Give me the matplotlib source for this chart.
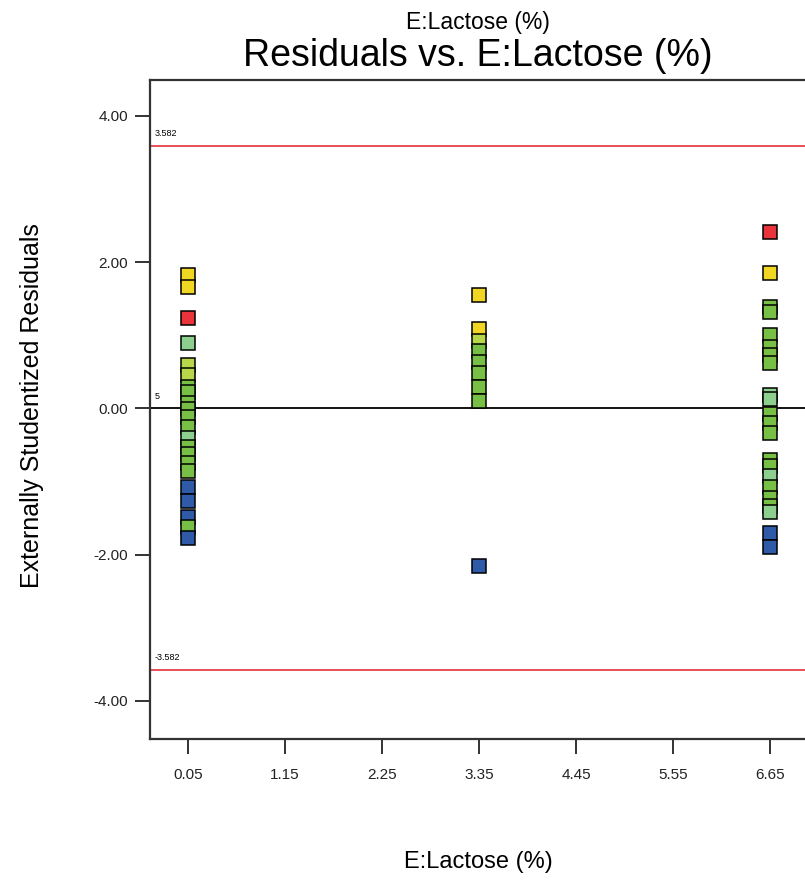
import numpy as np
import matplotlib.pyplot as plt

plt.rcParams["font.family"] = ["Liberation Sans", "DejaVu Sans"]

# Externally studentized residuals grouped by lactose level
lactose_levels = [0.05, 3.35, 6.65]

resid_low = [1.82, 1.66, 1.23, 0.90, 0.59, 0.45, 0.29, 0.22, 0.08, -0.01, -0.12,
             -0.26, -0.41, -0.53, -0.62, -0.74, -0.86, -1.08, -1.26, -1.49,
             -1.62, -1.77]
group_low = ["Y", "Y", "R", "L", "YG", "YG", "G", "G", "G", "G", "G",
             "G", "L", "G", "G", "G", "G", "B", "B", "B",
             "G", "B"]

resid_mid = [1.55, 1.08, 0.92, 0.78, 0.63, 0.48, 0.29, 0.10, -2.15]
group_mid = ["Y", "Y", "YG", "G", "G", "G", "G", "G", "B"]

resid_high = [2.41, 1.85, 1.38, 1.32, 1.00, 0.84, 0.73, 0.62, 0.18, 0.13,
              -0.07, -0.20, -0.34, -0.71, -0.79, -0.92, -1.08, -1.22, -1.33,
              -1.42, -1.71, -1.90]
group_high = ["R", "Y", "G", "G", "G", "G", "G", "G", "L", "L",
              "G", "G", "G", "G", "G", "L", "G", "G", "G",
              "L", "B", "B"]

limit = 3.582
x_ticks = [0.05, 1.15, 2.25, 3.35, 4.45, 5.55, 6.65]
y_ticks = [-4, -2, 0, 2, 4]

palette = {
    "R": "#e8343a",
    "Y": "#f2d624",
    "YG": "#b7d64a",
    "G": "#78bf45",
    "L": "#8ccf8e",
    "B": "#2f5aa8",
}

fig = plt.figure(figsize=(8.05, 8.8), dpi=100)
ax = fig.add_axes([150 / 805, (880 - 739) / 880, 655 / 805, (739 - 80) / 880])

ax.axhline(0, color="black", lw=1.3, zorder=1)
ax.axhline(limit, color="#e8414a", lw=1.3, zorder=1)
ax.axhline(-limit, color="#e8414a", lw=1.3, zorder=1)

for xv, ys, gs in zip(lactose_levels,
                      [resid_low, resid_mid, resid_high],
                      [group_low, group_mid, group_high]):
    for yv, g in zip(ys, gs):
        ax.plot(xv, yv, marker="s", ms=9.5, mfc=palette[g], mec="black",
                mew=1.1, ls="none", zorder=3, clip_on=False)

ax.text(-0.33, limit + 0.12, f"{limit:.3f}", fontsize=6.5, va="bottom")
ax.text(-0.33, -limit + 0.12, f"{-limit:.3f}", fontsize=6.5, va="bottom")
ax.text(-0.33, 0.1, "5", fontsize=6.5, va="bottom")

ax.set_xlim(-0.381, 7.045)
ax.set_ylim(-4.52, 4.49)
ax.set_xticks(x_ticks)
ax.set_xticklabels([f"{v:.2f}" for v in x_ticks])
ax.set_yticks(y_ticks)
ax.set_yticklabels([f"{v:.2f}" for v in y_ticks])

ax.spines["right"].set_visible(False)
ax.spines["bottom"].set_visible(False)
for s in ("left", "top"):
    ax.spines[s].set_linewidth(1.6)
    ax.spines[s].set_color("#333333")
ax.plot([-0.381, 7.045], [-4.52, -4.52], color="#333333", lw=1.6,
        clip_on=False, zorder=2)
ax.tick_params(axis="x", length=11, width=1.3, pad=10, labelsize=11,
               colors="#222222")
ax.tick_params(axis="y", length=11, width=1.3, pad=5, labelsize=11,
               colors="#222222")

fig.text(478 / 805, 1 - 22 / 880, "E:Lactose (%)", ha="center", va="center",
         fontsize=16.5)
fig.text(478 / 805, 1 - 56 / 880, "Residuals vs. E:Lactose (%)", ha="center",
         va="center", fontsize=27)
fig.text(478 / 805, 1 - 862 / 880, "E:Lactose (%)", ha="center", va="center",
         fontsize=17)
fig.text(32 / 805, 1 - 406 / 880, "Externally Studentized Residuals",
         ha="center", va="center", rotation=90, fontsize=18)

fig.savefig("out.png", dpi=100)
